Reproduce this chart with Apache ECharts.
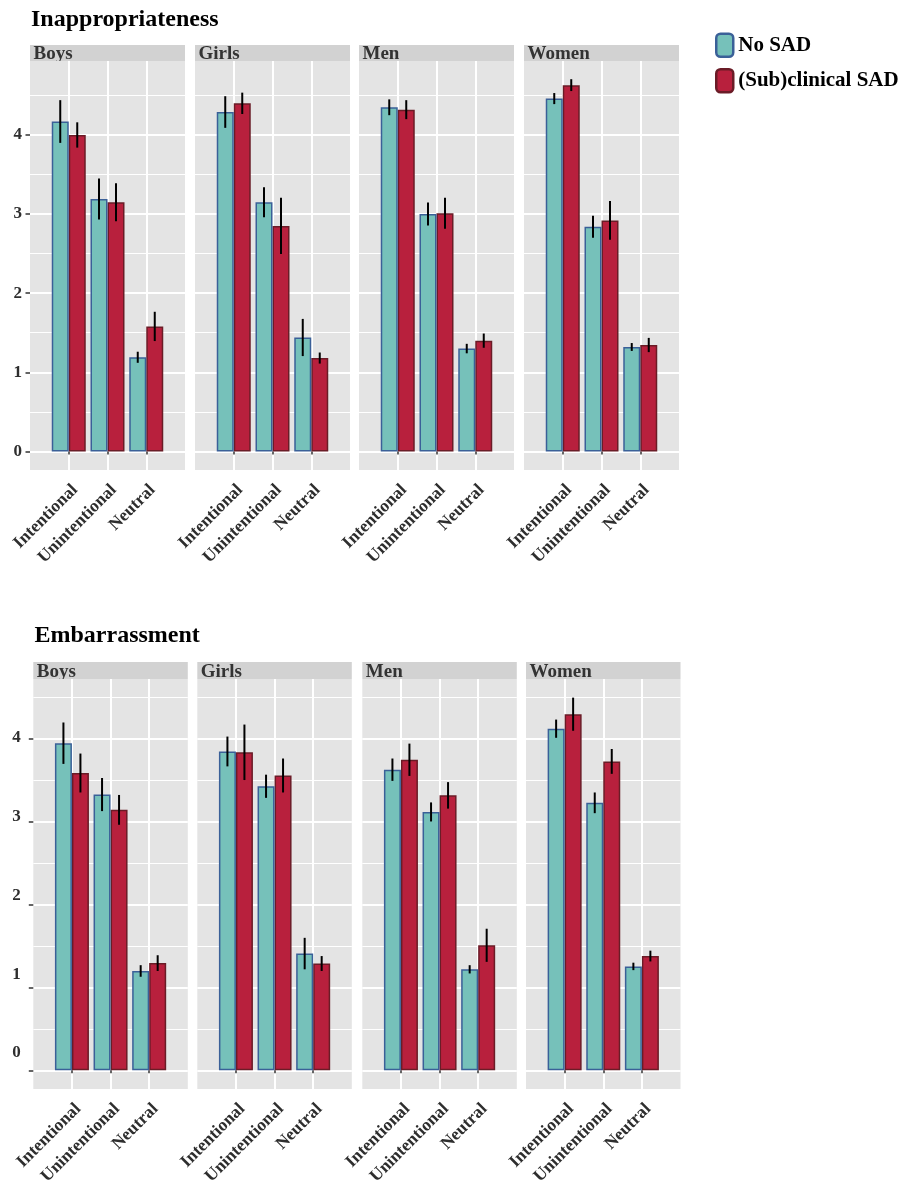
<!DOCTYPE html>
<html>
<head>
<meta charset="utf-8">
<script src="https://cdn.jsdelivr.net/npm/echarts@6/dist/echarts.min.js"></script>
<style>
  html, body { margin: 0; padding: 0; background: #ffffff; }
  #chart { width: 907px; height: 1192px; }
</style>
</head>
<body>
<div id="chart"></div>
<script>
// ---- data -------------------------------------------------------------
const categories = ['Intentional', 'Unintentional', 'Neutral'];
const panels = ['Boys', 'Girls', 'Men', 'Women'];
const groups = ['No SAD', '(Sub)clinical SAD'];
const measures = ['Inappropriateness', 'Embarrassment'];
const yTicks = [0, 1, 2, 3, 4];
const yMinorTicks = [0.5, 1.5, 2.5, 3.5, 4.5];

// Inappropriateness: mean rating per panel (rows: Boys, Girls, Men, Women)
const inapNoSad    = [[4.17, 3.19, 1.19], [4.29, 3.15, 1.44], [4.35, 3.00, 1.30], [4.46, 2.84, 1.32]];
const inapNoSadErr = [[0.27, 0.26, 0.07], [0.20, 0.19, 0.235], [0.10, 0.145, 0.06], [0.07, 0.14, 0.05]];
const inapSub      = [[4.00, 3.15, 1.58], [4.40, 2.85, 1.18], [4.32, 3.01, 1.40], [4.63, 2.92, 1.345]];
const inapSubErr   = [[0.16, 0.24, 0.185], [0.135, 0.355, 0.07], [0.12, 0.195, 0.09], [0.075, 0.245, 0.09]];

// Embarrassment: mean rating per panel (rows: Boys, Girls, Men, Women)
const embNoSad     = [[3.95, 3.33, 1.20], [3.85, 3.43, 1.41], [3.63, 3.12, 1.22], [4.125, 3.23, 1.255]];
const embNoSadErr  = [[0.25, 0.20, 0.07], [0.18, 0.14, 0.19], [0.135, 0.115, 0.05], [0.11, 0.125, 0.045]];
const embSub       = [[3.59, 3.145, 1.295], [3.84, 3.56, 1.29], [3.75, 3.32, 1.51], [4.30, 3.73, 1.38]];
const embSubErr    = [[0.235, 0.18, 0.095], [0.335, 0.205, 0.09], [0.195, 0.16, 0.20], [0.20, 0.15, 0.065]];

// ---- styling / layout -------------------------------------------------
const FONT = '"Liberation Serif", "Times New Roman", serif';
const TEXT_GREY = '#2e2e2e';
const FILLS = ['#76C1BA', '#B8203D'];
const EDGES = ['#3A6098', '#6A1C27'];
const PANEL_BG = '#E4E4E4';
const STRIP_BG = '#D2D2D2';
const BAR_W = 17;

const sections = [
  {
    title: measures[0], titleX: 31, titleMid: 20,
    lefts: [30, 195, 359, 524], width: 155,
    stripTop: 45, top: 61, height: 409, stripTextMid: 54,
    yMin: -0.235, yMax: 4.935,
    means: [inapNoSad, inapSub], errs: [inapNoSadErr, inapSubErr],
    ownLabels: true
  },
  {
    title: measures[1], titleX: 34.5, titleMid: 636,
    lefts: [33.3, 197.3, 362.3, 526], width: 154.5,
    stripTop: 662, top: 679, height: 410, stripTextMid: 672,
    yMin: -0.225, yMax: 4.725,
    means: [embNoSad, embSub], errs: [embNoSadErr, embSubErr],
    ownLabels: false
  }
];

const axisCats = [''].concat(categories, ['']);
const innerCat = (i) => i >= 1 && i <= categories.length;

const grids = [], xAxes = [], yAxes = [], series = [], graphics = [];

sections.forEach((sec) => {
  graphics.push({
    type: 'text', x: sec.titleX, y: sec.titleMid,
    style: { text: sec.title, font: 'bold 24px ' + FONT, fill: '#000', verticalAlign: 'middle' }
  });

  panels.forEach((pname, pi) => {
    const g = grids.length;
    const left = sec.lefts[pi];
    grids.push({
      left: left, top: sec.top, width: sec.width, height: sec.height,
      show: true, backgroundColor: PANEL_BG, borderWidth: 0,
      containLabel: false, outerBoundsMode: 'none'
    });

    // facet strip
    graphics.push({
      type: 'rect', z: -2,
      shape: { x: left, y: sec.stripTop, width: sec.width, height: sec.top - sec.stripTop },
      style: { fill: STRIP_BG }
    });
    graphics.push({
      type: 'text', z: -1, x: left + 3.5, y: sec.stripTextMid,
      style: { text: pname, font: 'bold 19px ' + FONT, fill: '#333333', verticalAlign: 'middle' }
    });

    xAxes.push({
      type: 'category', gridIndex: g, data: axisCats, boundaryGap: false,
      axisLine: { show: false },
      axisTick: { show: true, interval: innerCat, length: 3, lineStyle: { color: '#333', width: 1.5 } },
      splitLine: { show: true, interval: innerCat, lineStyle: { color: '#ffffff', width: 2 } },
      axisLabel: {
        interval: 0, rotate: 45, margin: 11, align: 'right', verticalAlign: 'top',
        padding: [0, 0, 0, 0],
        fontFamily: FONT, fontWeight: 'bold', fontSize: 17.5, color: TEXT_GREY
      }
    });

    const firstPanel = pi === 0;
    yAxes.push({
      type: 'value', gridIndex: g, min: sec.yMin, max: sec.yMax,
      axisLine: { show: false },
      axisTick: { show: firstPanel, customValues: yTicks, length: 4.5, lineStyle: { color: '#333', width: 1.5 } },
      axisLabel: {
        show: firstPanel && sec.ownLabels, customValues: yTicks, margin: 8,
        fontFamily: FONT, fontWeight: 'bold', fontSize: 17, color: TEXT_GREY
      },
      splitLine: { show: true, lineStyle: { color: '#ffffff', width: 2 } }
    });
    yAxes.push({
      type: 'value', gridIndex: g, min: sec.yMin, max: sec.yMax,
      axisLine: { show: false },
      axisTick: { show: false, customValues: yMinorTicks },
      axisLabel: { show: false, customValues: yMinorTicks },
      splitLine: { show: true, lineStyle: { color: '#ffffff', width: 1 } }
    });

    groups.forEach((gname, k) => {
      const means = sec.means[k][pi];
      const errs = sec.errs[k][pi];
      series.push({
        type: 'bar', name: gname, xAxisIndex: g, yAxisIndex: 2 * g,
        barWidth: BAR_W, barGap: '0%', z: k === 0 ? 3 : 2,
        itemStyle: { color: FILLS[k], borderColor: EDGES[k], borderWidth: 1.5 },
        emphasis: { disabled: true },
        data: ['-'].concat(means, ['-'])
      });
      const offset = (k === 0 ? -1 : 1) * BAR_W / 2;
      series.push({
        type: 'custom', xAxisIndex: g, yAxisIndex: 2 * g, z: 4, silent: true,
        encode: { x: 0, y: [1, 2] },
        data: means.map((m, i) => [i + 1, m - errs[i], m + errs[i]]),
        renderItem: (params, api) => {
          const c = api.value(0);
          const lo = api.coord([c, api.value(1)]);
          const hi = api.coord([c, api.value(2)]);
          return {
            type: 'line',
            shape: { x1: lo[0] + offset, y1: lo[1], x2: hi[0] + offset, y2: hi[1] },
            style: { stroke: '#000000', lineWidth: 2 }
          };
        }
      });
    });
  });
});

// tick labels for the lower block's value axis
{
  const g = grids.length;
  grids.push({ left: 33.3, top: 737.5, width: 1, height: 315.5, show: false, containLabel: false, outerBoundsMode: 'none' });
  xAxes.push({ type: 'value', gridIndex: g, show: false });
  yAxes.push({
    type: 'value', gridIndex: g, min: 0, max: 4, interval: 1,
    axisLine: { show: false }, axisTick: { show: false }, splitLine: { show: false },
    axisLabel: { margin: 12.5, fontFamily: FONT, fontWeight: 'bold', fontSize: 17, color: TEXT_GREY }
  });
}

const chart = echarts.init(document.getElementById('chart'), null, { renderer: 'canvas' });
chart.setOption({
  backgroundColor: '#ffffff',
  animation: false,
  grid: grids,
  xAxis: xAxes,
  yAxis: yAxes,
  legend: {
    data: groups, orient: 'vertical', left: 715, top: 32.5, padding: 0,
    itemWidth: 17, itemHeight: 23, itemGap: 10, icon: 'roundRect',
    selectedMode: false,
    itemStyle: { borderWidth: 2.5 },
    textStyle: { fontFamily: FONT, fontWeight: 'bold', fontSize: 21, color: '#000' }
  },
  graphic: { elements: graphics },
  series: series
});
</script>
</body>
</html>
